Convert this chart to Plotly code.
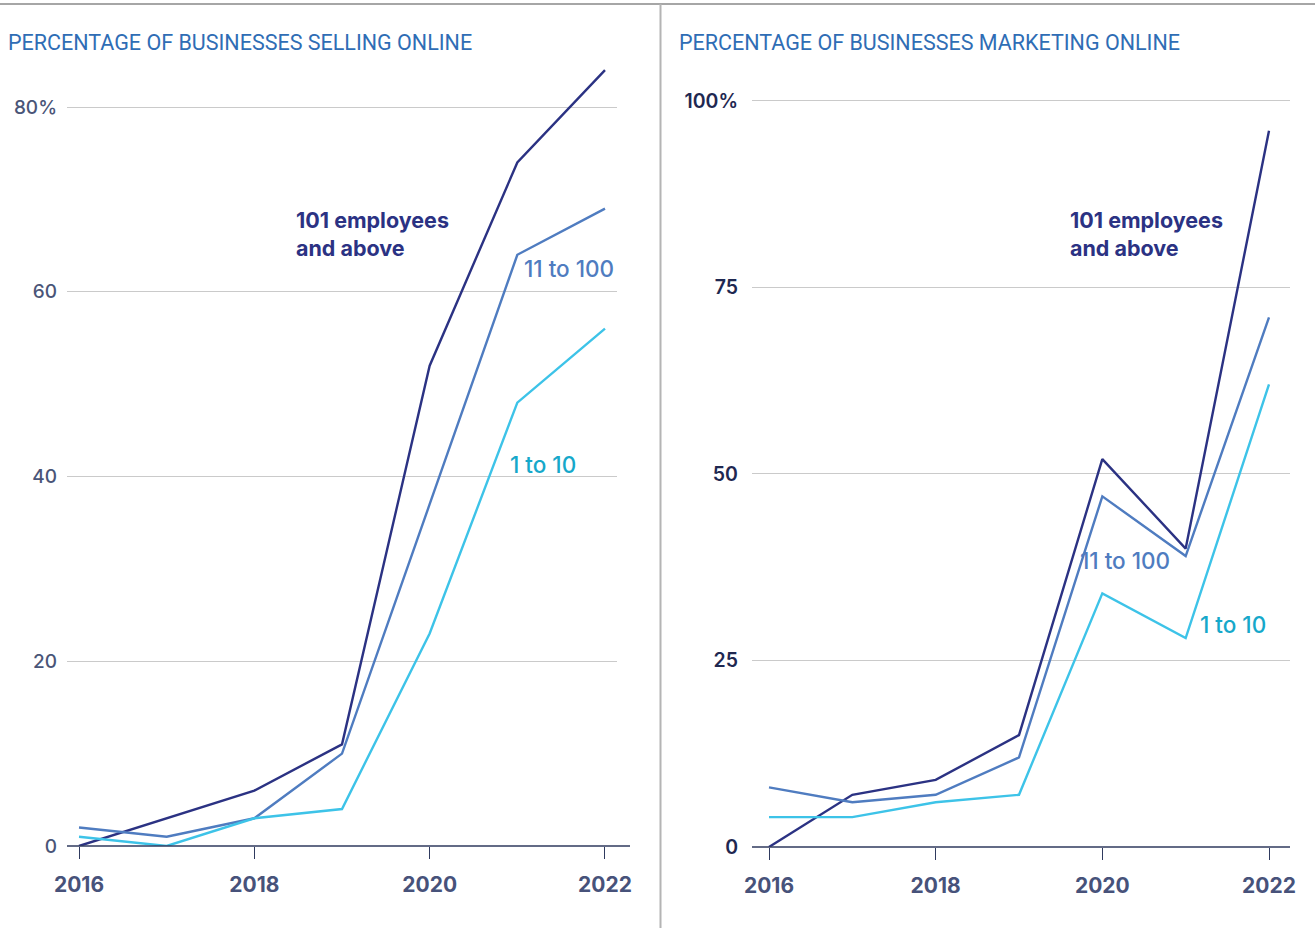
import plotly.graph_objects as go

W, H = 1315, 928

years = [2016, 2017, 2018, 2019, 2020, 2021, 2022]

# Share of businesses selling online (%)
selling_101_plus = [0, 3, 6, 11, 52, 74, 84]
selling_11_100 = [2, 1, 3, 10, 37, 64, 69]
selling_1_10 = [1, 0, 3, 4, 23, 48, 56]

# Share of businesses marketing online (%)
marketing_101_plus = [0, 7, 9, 15, 52, 40, 96]
marketing_11_100 = [8, 6, 7, 12, 47, 39, 71]
marketing_1_10 = [4, 4, 6, 7, 34, 28, 62]

x_tickvals = [2016, 2018, 2020, 2022]
x_ticktext = ["2016", "2018", "2020", "2022"]
left_tickvals = [0, 20, 40, 60, 80]
left_ticktext = ["0", "20", "40", "60", "80%"]
right_tickvals = [0, 25, 50, 75, 100]
right_ticktext = ["0", "25", "50", "75", "100%"]

NAVY = "#2b3283"
MID = "#4f7cc0"
LIGHT = "#3dc3e8"
LIGHT_TEXT = "#16a8ca"
TITLE = "#2f6db5"
AXIS = "#2f3a5e"
GRID = "#cacaca"
FONT = "Inter, Lato, sans-serif"


def px_x(p):
    return p / W


def px_y(p):
    return 1 - p / H


fig = go.Figure()

series = [
    (selling_101_plus, marketing_101_plus, NAVY),
    (selling_11_100, marketing_11_100, MID),
    (selling_1_10, marketing_1_10, LIGHT),
]
for sell, mark, color in series:
    fig.add_trace(go.Scatter(x=years, y=sell, mode="lines", xaxis="x", yaxis="y",
                             line=dict(color=color, width=2.4), showlegend=False,
                             hoverinfo="skip"))
    fig.add_trace(go.Scatter(x=years, y=mark, mode="lines", xaxis="x2", yaxis="y2",
                             line=dict(color=color, width=2.4), showlegend=False,
                             hoverinfo="skip"))

xaxis_common = dict(
    tickvals=x_tickvals, ticktext=x_ticktext, showgrid=False, zeroline=False,
    showline=False, ticks="outside", ticklen=12, tickwidth=1.3, tickcolor=AXIS,
    tickfont=dict(family=FONT, size=21, color="#47527a", weight="bold"),
    ticklabelstandoff=8, fixedrange=True, automargin=False,
)
yaxis_common = dict(
    showgrid=True, gridcolor=GRID, gridwidth=1, zeroline=False, showline=False,
    ticks="", fixedrange=True, automargin=False,
)

fig.update_layout(
    width=W, height=H, margin=dict(l=0, r=0, t=0, b=0, pad=0),
    paper_bgcolor="white", plot_bgcolor="white",
    xaxis=dict(domain=[px_x(67), px_x(617)], range=[2015.863, 2022.137], anchor="y",
               **xaxis_common),
    yaxis=dict(domain=[px_y(846), px_y(50)], range=[0, 86.17], anchor="x",
               tickvals=left_tickvals, ticktext=left_ticktext,
               tickfont=dict(family=FONT, size=19, color="#4a5578", weight=500),
               ticklabelstandoff=9, **yaxis_common),
    xaxis2=dict(domain=[px_x(752), px_x(1290)], range=[2015.796, 2022.252], anchor="y2",
                **xaxis_common),
    yaxis2=dict(domain=[px_y(847), px_y(78)], range=[0, 103.08], anchor="x2",
                tickvals=right_tickvals, ticktext=right_ticktext,
                tickfont=dict(family=FONT, size=19.5, color="#1f2851", weight=600),
                ticklabelstandoff=13, **yaxis_common),
)

# Baselines, with the left one running a little past the last gridline
fig.add_shape(type="line", xref="paper", yref="paper",
              x0=px_x(67), x1=px_x(630), y0=px_y(846), y1=px_y(846),
              line=dict(color=AXIS, width=1.6))
fig.add_shape(type="line", xref="paper", yref="paper",
              x0=px_x(752), x1=px_x(1290), y0=px_y(847), y1=px_y(847),
              line=dict(color=AXIS, width=1.6))

# Frame: top rule and divider between the two panels
fig.add_shape(type="line", xref="paper", yref="paper",
              x0=0, x1=1, y0=px_y(4), y1=px_y(4),
              line=dict(color="#a6a6a6", width=2))
fig.add_shape(type="line", xref="paper", yref="paper",
              x0=px_x(660.5), x1=px_x(660.5), y0=0, y1=px_y(4),
              line=dict(color="#b4b4b4", width=2))

title_font = dict(family="Roboto, sans-serif", size=21.5, color=TITLE)
fig.add_annotation(text="PERCENTAGE OF BUSINESSES SELLING ONLINE", xref="paper", yref="paper",
                   x=px_x(6), y=px_y(43), xanchor="left", yanchor="middle",
                   showarrow=False, font=title_font)
fig.add_annotation(text="PERCENTAGE OF BUSINESSES MARKETING ONLINE", xref="paper", yref="paper",
                   x=px_x(677), y=px_y(43), xanchor="left", yanchor="middle",
                   showarrow=False, font=title_font)

labels = [
    ("101 employees<br>and above", 294, 234, NAVY, "bold", 21.5),
    ("11 to 100", 522, 269, MID, 500, 22.5),
    ("1 to 10", 508, 464, LIGHT_TEXT, 500, 22.5),
    ("101 employees<br>and above", 1068, 234, NAVY, "bold", 21.5),
    ("11 to 100", 1078, 560, MID, 500, 22.5),
    ("1 to 10", 1198, 624, LIGHT_TEXT, 500, 22.5),
]
for text, lx, ly, color, weight, size in labels:
    fig.add_annotation(text=text, xref="paper", yref="paper",
                       x=px_x(lx), y=px_y(ly), xanchor="left", yanchor="middle",
                       align="left", showarrow=False,
                       font=dict(family=FONT, size=size, color=color, weight=weight))

fig.write_html("out.html",
               post_script="document.body.style.margin='0';"
                           "document.body.style.overflow='hidden';")
